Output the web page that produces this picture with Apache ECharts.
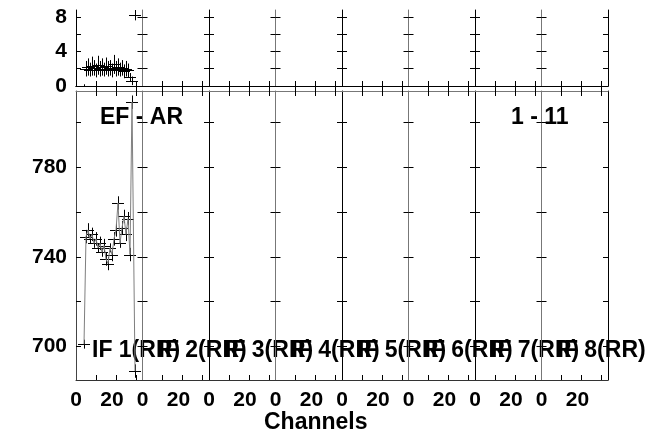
<!DOCTYPE html>
<html>
<head>
<meta charset="utf-8">
<script src="https://cdn.jsdelivr.net/npm/echarts@6.0.0/dist/echarts.min.js"></script>
<style>
html, body { margin: 0; padding: 0; background: #fff; }
#chart { width: 649px; height: 433px; }
</style>
</head>
<body>
<div id="chart"></div>
<script>
// IF 1 averaged channels (only IF with data)
const channels = [4, 5, 6, 7, 8, 9, 10, 11, 12, 13, 14, 15, 16, 17, 18, 19, 20, 21, 22, 23, 24, 25, 26, 27, 28, 29.5];
const chanErr = [3, 3, 3, 3, 3, 3, 3, 3, 3, 3, 3, 3, 3, 3, 3, 3, 3, 3, 3, 3, 3, 3, 3, 3, 3, 3];
// top panel (phase)
const phaseVals = [0.0, 2.0, 2.2, 1.9, 2.3, 2.1, 1.8, 2.4, 2.0, 2.2, 1.9, 2.3, 2.0, 2.1, 1.8, 2.5, 2.0, 2.2, 1.9, 2.1, 1.7, 2.0, 1.8, 1.0, 0.6, 8.2];
const phaseErr = [0.2, 0.9, 1.0, 0.8, 1.1, 0.9, 0.8, 1.1, 0.9, 1.0, 0.8, 1.0, 0.9, 0.9, 0.8, 1.1, 0.9, 1.0, 0.8, 0.9, 0.8, 0.9, 0.8, 0.5, 0.5, 0.6];
// bottom panel (amplitude)
const ampVals = [701, 749, 752, 748, 750, 746, 748, 744, 746, 742, 745, 739, 737, 744, 741, 748, 752, 764, 746, 753, 758, 750, 757, 741, 809, 689];
const ampErr = [2, 3, 3, 2, 3, 2, 3, 2, 3, 2, 3, 3, 3, 2, 3, 3, 3, 3, 2, 3, 3, 3, 3, 3, 3, 3];

const ifLabels = ["IF 1(RR)", "IF 2(RR)", "IF 3(RR)", "IF 4(RR)", "IF 5(RR)", "IF 6(RR)", "IF 7(RR)", "IF 8(RR)"];
const xTickVals = [10, 20, 30];
const xLabelVals = [0, 20];
const phaseTicks = [0, 2, 4, 6, 8];
const phaseLabels = [0, 4, 8];
const ampTicks = [700, 720, 740, 760, 780, 800];
const ampLabels = [700, 740, 780];

const FONT = "Liberation Sans";
const plotLeft = 76, plotRight = 608;
const colW = (plotRight - plotLeft) / ifLabels.length;
const topPanel = { top: 10, height: 76, min: 0, max: 8.8, ticks: phaseTicks, labels: phaseLabels };
const lowPanel = { top: 91, height: 289, min: 685, max: 814, ticks: ampTicks, labels: ampLabels };

const grids = [], xAxes = [], yAxes = [];

function addPanel(panel, isLower) {
    ifLabels.forEach((lbl, i) => {
        grids.push({ left: plotLeft + i * colW, top: panel.top, width: colW, height: panel.height });
        const g = grids.length - 1;
        const baseX = {
            gridIndex: g, type: "value", min: 0, max: 33.25,
            splitLine: { show: false },
            axisTick: { inside: true, length: 5, customValues: xTickVals, lineStyle: { color: "#000" } }
        };
        // bottom x
        xAxes.push(Object.assign({}, baseX, {
            position: "bottom",
            axisLine: { lineStyle: { color: isLower ? "#333" : "#000", width: 1 } },
            axisLabel: isLower ? {
                show: true, customValues: xLabelVals, margin: 10,
                fontFamily: FONT, fontWeight: "bold", fontSize: 21, color: "#000",
                formatter: v => v === 20 ? "{s|20}" : String(v),
                rich: { s: { fontFamily: FONT, fontWeight: "bold", fontSize: 21, color: "#000", padding: [0, 8, 0, 0] } }
            } : { show: false }
        }));
        // top x
        xAxes.push(Object.assign({}, baseX, {
            position: "top",
            axisLine: { lineStyle: { color: isLower ? "#777" : "#000", width: 1 } },
            axisLabel: { show: false }
        }));
        const leftColor = i === 0 ? (isLower ? "#444" : "#000") : (i % 2 === 1 ? "#777" : "#000");
        yAxes.push({
            gridIndex: g, type: "value", position: "left", min: panel.min, max: panel.max,
            splitLine: { show: false },
            axisLine: { show: true, onZero: false, lineStyle: { color: leftColor, width: 1 } },
            axisTick: { inside: true, length: 5, customValues: panel.ticks, lineStyle: { color: "#000" } },
            axisLabel: i === 0 ? {
                show: true, customValues: panel.labels, margin: 9,
                fontFamily: FONT, fontWeight: "bold", fontSize: 21, color: "#000"
            } : { show: false }
        });
        yAxes.push({
            gridIndex: g, type: "value", position: "right", min: panel.min, max: panel.max,
            splitLine: { show: false },
            axisLine: { show: i === ifLabels.length - 1, onZero: false, lineStyle: { color: "#000", width: 1 } },
            axisTick: { inside: true, length: 5, customValues: panel.ticks, lineStyle: { color: "#000" } },
            axisLabel: { show: false }
        });
    });
}

addPanel(topPanel, false);
addPanel(lowPanel, true);

const lowGrid = ifLabels.length; // first grid of lower panel

function crossData(vals, errs) {
    return channels.map((c, k) => [c, vals[k], chanErr[k], errs[k]]);
}

// snap to pixel centres so the 1px crosses stay black
const crisp = v => Math.round(v) + 0.5;

function renderCross(params, api) {
    const x = api.value(0), y = api.value(1), ex = api.value(2), ey = api.value(3);
    const a = api.coord([x - ex, y]), b = api.coord([x + ex, y]);
    const c = api.coord([x, y - ey]), d = api.coord([x, y + ey]);
    const style = { stroke: "#000", lineWidth: 1 };
    return {
        type: "group",
        children: [
            { type: "line", shape: { x1: a[0], y1: crisp(a[1]), x2: b[0], y2: crisp(b[1]) }, style: style },
            { type: "line", shape: { x1: crisp(c[0]), y1: c[1], x2: crisp(d[0]), y2: d[1] }, style: style }
        ]
    };
}

const series = [
    {
        type: "custom", xAxisIndex: 0, yAxisIndex: 0, clip: true,
        renderItem: renderCross, data: crossData(phaseVals, phaseErr), silent: true
    },
    {
        type: "line", xAxisIndex: lowGrid * 2, yAxisIndex: lowGrid * 2,
        data: channels.map((c, k) => [c, ampVals[k]]),
        symbol: "none", lineStyle: { color: "#7f7f7f", width: 1 }, silent: true, animation: false
    },
    {
        type: "custom", xAxisIndex: lowGrid * 2, yAxisIndex: lowGrid * 2, clip: true,
        renderItem: renderCross, data: crossData(ampVals, ampErr), silent: true
    }
];

const graphic = [
    { type: "text", left: 100, top: 118 - 11.5, style: { text: "EF - AR", font: "bold 23px " + FONT, fill: "#000" } },
    { type: "text", left: 511, top: 118 - 11.5, style: { text: "1 - 11", font: "bold 23px " + FONT, fill: "#000" } },
    { type: "text", left: 264, top: 423 - 11.5, style: { text: "Channels", font: "bold 23px " + FONT, fill: "#000" } }
];
ifLabels.forEach((lbl, i) => {
    graphic.push({ type: "text", left: 92 + i * colW, top: 351 - 11.5, style: { text: lbl, font: "bold 23px " + FONT, fill: "#000" } });
});

const chart = echarts.init(document.getElementById("chart"), null, { renderer: "canvas" });
chart.setOption({
    animation: false,
    backgroundColor: "#fff",
    grid: grids,
    xAxis: xAxes,
    yAxis: yAxes,
    series: series,
    graphic: graphic
});
</script>
</body>
</html>
